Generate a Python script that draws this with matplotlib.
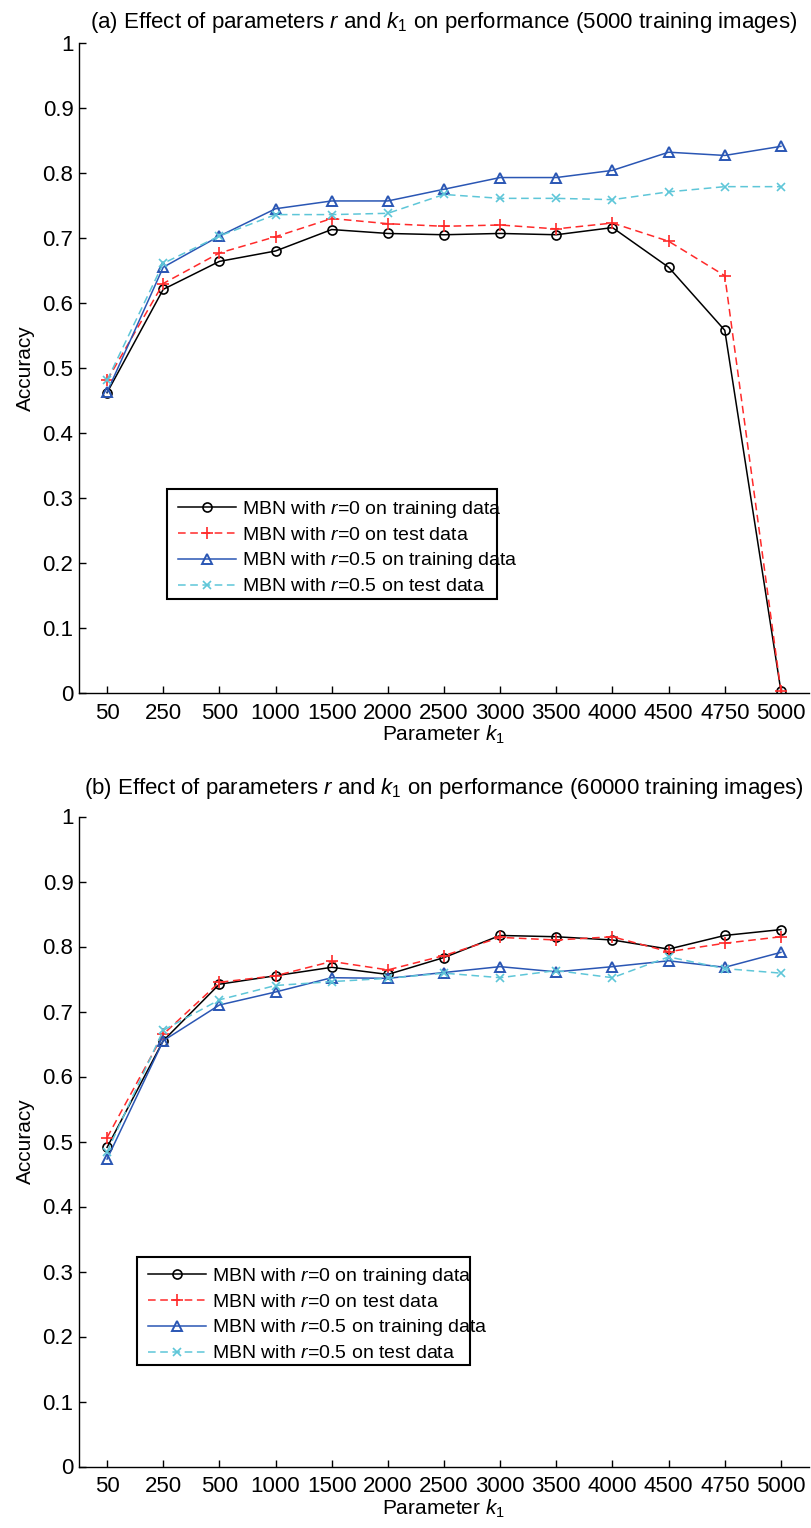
import numpy as np
import matplotlib
matplotlib.use("Agg")
import matplotlib.pyplot as plt
from matplotlib.patches import Rectangle

# k1 settings shown on the x axis
k1_labels = ["50", "250", "500", "1000", "1500", "2000", "2500",
             "3000", "3500", "4000", "4500", "4750", "5000"]

# (a) 5000 training images
a_r0_train = [0.462, 0.621, 0.664, 0.680, 0.713, 0.707, 0.705,
              0.707, 0.705, 0.716, 0.655, 0.558, 0.003]
a_r0_test = [0.481, 0.630, 0.677, 0.702, 0.730, 0.722, 0.718,
             0.720, 0.714, 0.723, 0.695, 0.642, 0.003]
a_r05_train = [0.463, 0.655, 0.703, 0.745, 0.757, 0.757, 0.775,
               0.793, 0.793, 0.804, 0.832, 0.827, 0.841]
a_r05_test = [0.481, 0.661, 0.703, 0.736, 0.736, 0.738, 0.767,
              0.761, 0.761, 0.759, 0.771, 0.779, 0.779]

# (b) 60000 training images
b_r0_train = [0.491, 0.655, 0.742, 0.755, 0.768, 0.757, 0.783,
              0.817, 0.815, 0.810, 0.796, 0.817, 0.826]
b_r0_test = [0.506, 0.665, 0.745, 0.755, 0.777, 0.764, 0.786,
             0.814, 0.810, 0.815, 0.792, 0.805, 0.815]
b_r05_train = [0.473, 0.655, 0.710, 0.730, 0.752, 0.751, 0.760,
               0.769, 0.761, 0.769, 0.778, 0.768, 0.791]
b_r05_test = [0.484, 0.671, 0.718, 0.740, 0.746, 0.751, 0.759,
              0.752, 0.763, 0.752, 0.784, 0.766, 0.759]

series_labels = ["MBN with $r$=0 on training data",
                 "MBN with $r$=0 on test data",
                 "MBN with $r$=0.5 on training data",
                 "MBN with $r$=0.5 on test data"]

plt.rcParams["font.family"] = ["Liberation Sans", "DejaVu Sans"]
plt.rcParams["mathtext.fontset"] = "custom"
plt.rcParams["mathtext.rm"] = "Liberation Sans"
plt.rcParams["mathtext.it"] = "Liberation Sans:italic"

styles = [
    dict(color="black", linestyle="-", marker="o", markerfacecolor="none",
         markeredgecolor="black", markersize=6.5, markeredgewidth=1.2),
    dict(color="#ff2a2a", linestyle=(0, (5, 3)), marker="+",
         markersize=8, markeredgewidth=1.2),
    dict(color="#2a56b4", linestyle="-", marker="^", markerfacecolor="none",
         markeredgecolor="#2a56b4", markersize=6.5, markeredgewidth=1.4),
    dict(color="#5ec6d8", linestyle=(0, (5, 3)), marker="x",
         markersize=5.5, markeredgewidth=1.2),
]

W, H = 811, 1528
fig = plt.figure(figsize=(W / 100, H / 100), dpi=100)

x = np.arange(1, len(k1_labels) + 1)


def panel(rect, data, title, title_pad, leg_anchor, frame_box):
    ax = fig.add_axes(rect)
    for vals, st, lab in zip(data, styles, series_labels):
        ax.plot(x, vals, linewidth=1.1, label=lab, **st)
    ax.set_xlim(0.5, 13.5)
    ax.set_ylim(0, 1)
    ax.set_xticks(x)
    ax.set_xticklabels(k1_labels)
    yt = np.round(np.arange(0, 1.01, 0.1), 1)
    ax.set_yticks(yt)
    ax.set_yticklabels(["0" if v == 0 else ("1" if v == 1 else f"{v:.1f}") for v in yt])
    ax.spines["top"].set_visible(False)
    ax.spines["right"].set_visible(False)
    for s in ("left", "bottom"):
        ax.spines[s].set_linewidth(1.0)
    ax.tick_params(direction="in", length=5, width=1.0, labelsize=16)
    ax.tick_params(axis="x", pad=7)
    ax.tick_params(axis="y", pad=4)
    ax.set_xlabel("Parameter $k_1$", fontsize=15, labelpad=0)
    ax.set_ylabel("Accuracy", fontsize=15)
    ax.yaxis.set_label_coords(-0.060, 0.5)
    ax.set_title(title, fontsize=16, pad=title_pad)
    ax.legend(loc="upper left", bbox_to_anchor=leg_anchor,
              bbox_transform=fig.transFigure, fontsize=14,
              handlelength=3.0, handletextpad=0.3, labelspacing=0.33,
              borderpad=0.0, borderaxespad=0.0, frameon=False)
    x0, y0, x1, y1 = frame_box
    fig.add_artist(Rectangle((x0 / W, 1 - y1 / H), (x1 - x0) / W, (y1 - y0) / H,
                             transform=fig.transFigure, fill=False,
                             edgecolor="black", linewidth=1.5, zorder=1))
    return ax


left = 79 / W
width = 730 / W
panel([left, 1 - 693 / H, width, 650 / H],
      [a_r0_train, a_r0_test, a_r05_train, a_r05_test],
      "(a) Effect of parameters $r$ and $k_1$ on performance (5000 training images)",
      11,
      (178 / W, 1 - 499 / H), (167, 489, 497, 599))
panel([left, 1 - 1466.5 / H, width, 650 / H],
      [b_r0_train, b_r0_test, b_r05_train, b_r05_test],
      "(b) Effect of parameters $r$ and $k_1$ on performance (60000 training images)",
      16,
      (148 / W, 1 - 1266 / H), (137, 1257, 470, 1365))

fig.savefig("out.png", dpi=100)
